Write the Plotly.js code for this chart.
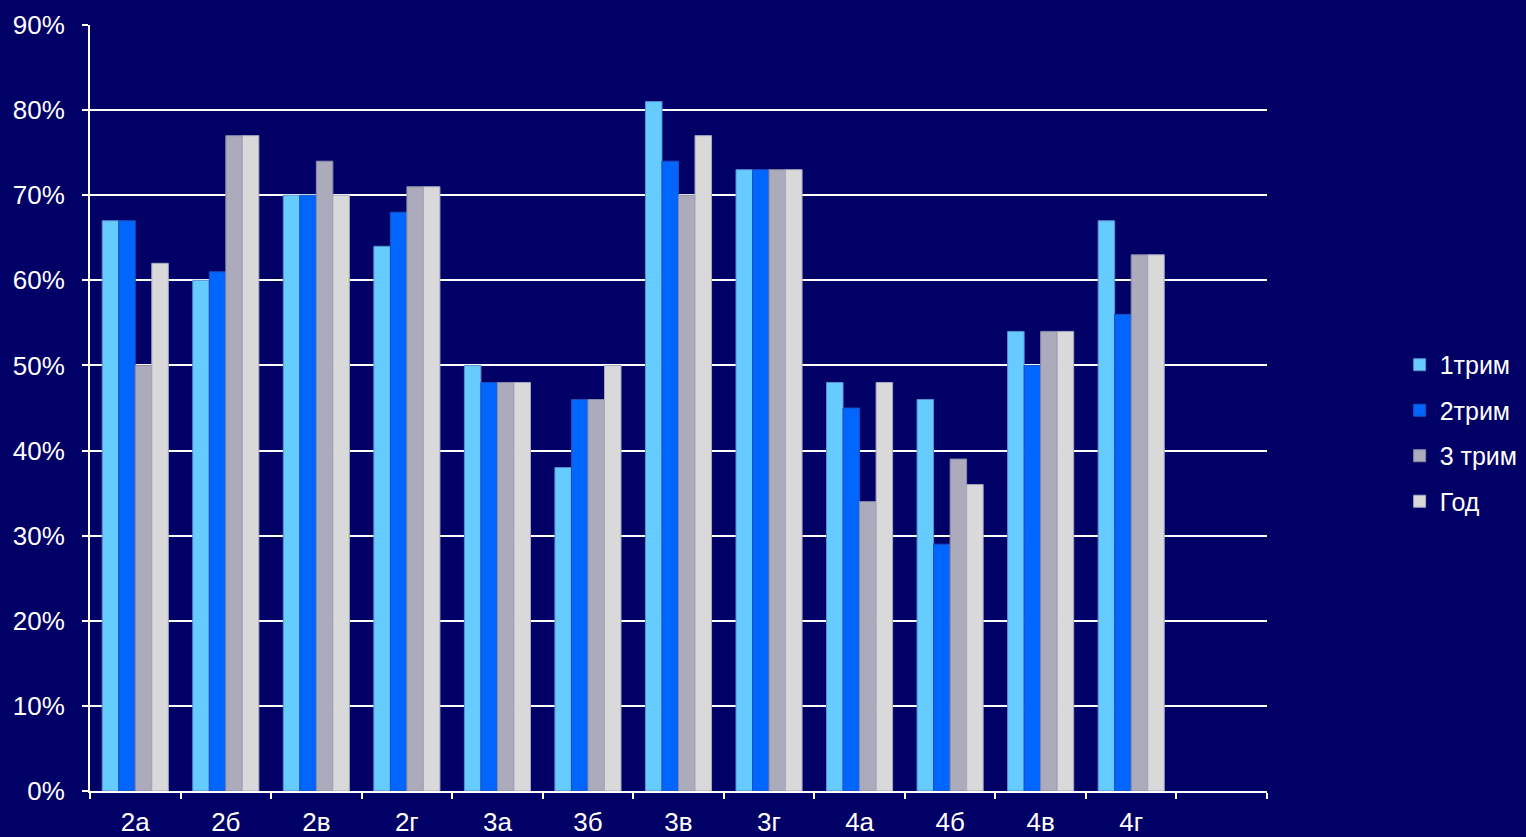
<!DOCTYPE html>
<html>
<head>
<meta charset="utf-8">
<script src="https://cdn.plot.ly/plotly-3.0.1.min.js"></script>
<style>html,body{margin:0;padding:0;background:#000066;}#chart{width:1526px;height:837px;}</style>
</head>
<body>
<div id="chart"></div>
<script>
const categories = ["2а","2б","2в","2г","3а","3б","3в","3г","4а","4б","4в","4г"," "];
const seriesNames = ["1трим","2трим","3 трим","Год"];
const trim1 = [0.67,0.60,0.70,0.64,0.50,0.38,0.81,0.73,0.48,0.46,0.54,0.67];
const trim2 = [0.67,0.61,0.70,0.68,0.48,0.46,0.74,0.73,0.45,0.29,0.50,0.56];
const trim3 = [0.50,0.77,0.74,0.71,0.48,0.46,0.70,0.73,0.34,0.39,0.54,0.63];
const year  = [0.62,0.77,0.70,0.71,0.48,0.50,0.77,0.73,0.48,0.36,0.54,0.63];
const colors = ["#66CCFF","#0066FF","#ABABBB","#D9D9D9"];
const lineColors = ["#5a8fcf","#1a4fbf","#8a8aa6","#a8a8c0"];
const yTicks = [0,0.1,0.2,0.3,0.4,0.5,0.6,0.7,0.8,0.9];

const allSeries = [trim1, trim2, trim3, year];
const traces = allSeries.map((vals, i) => ({
  type: "bar",
  name: seriesNames[i],
  x: categories.slice(0, vals.length),
  y: vals,
  legendgroup: "g" + i,
  marker: {color: colors[i], line: {color: lineColors[i], width: 1}},
  hoverinfo: "skip"
}));

const layout = {
  width: 1526, height: 837,
  paper_bgcolor: "#000066",
  plot_bgcolor: "#000066",
  margin: {l: 90, r: 259, t: 25, b: 46, pad: 0},
  font: {family: "Liberation Sans, Arial, sans-serif", color: "#ffffff", size: 26},
  barmode: "group",
  bargap: 0.27,
  bargroupgap: 0,
  showlegend: true,
  legend: {
    xref: "container", yref: "container",
    x: 0.9172, xanchor: "left", y: 0.4827, yanchor: "middle",
    font: {size: 25, color: "#ffffff"},
    bgcolor: "rgba(0,0,0,0)",
    tracegroupgap: 10,
    traceorder: "grouped"
  },
  xaxis: {
    type: "category",
    categoryorder: "array",
    categoryarray: categories,
    range: [-0.5, 12.5],
    tickson: "boundaries",
    ticks: "outside", ticklen: 6, tickwidth: 2, tickcolor: "#ffffff",
    ticklabelstandoff: 7,
    showline: true, linecolor: "#ffffff", linewidth: 2,
    showgrid: false, zeroline: false,
    automargin: false,
    tickfont: {size: 26, color: "#ffffff"}
  },
  yaxis: {
    range: [0, 0.9],
    tickvals: yTicks,
    tickformat: ".0%",
    ticks: "outside", ticklen: 6, tickwidth: 2, tickcolor: "#ffffff",
    ticklabelstandoff: 12,
    showline: true, linecolor: "#ffffff", linewidth: 2,
    showgrid: true, gridcolor: "#ffffff", gridwidth: 2,
    zeroline: false,
    automargin: false,
    tickfont: {size: 26, color: "#ffffff"}
  }
};

Plotly.newPlot("chart", traces, layout, {displayModeBar: false, staticPlot: true});
</script>
</body>
</html>
